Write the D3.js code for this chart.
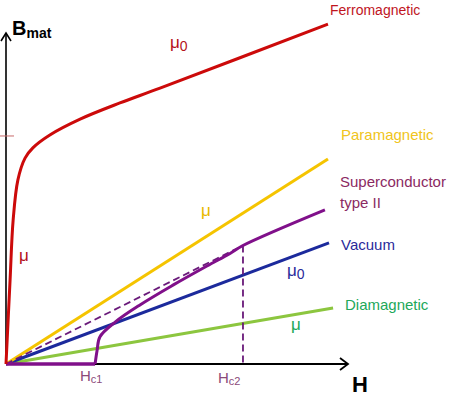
<!DOCTYPE html>
<meta charset="utf-8">
<head>
    <title>B vs H</title>
    <script src="https://cdn.jsdelivr.net/npm/d3@7"></script>
    <style>
        body { margin: 0; background: #fff; }
        text { font-family: "Liberation Sans", Arial, sans-serif; }
    </style>
</head>
<body>
<div id="chart"></div>
<script>
    // values (H and B in arbitrary units)
    var ferroH = [0, 1.2, 2.1, 3.5, 5.6, 7.9, 12.9, 21.8, 33.5, 45.3, 94.7];
    var ferroB = [0, 25.5, 43.6, 55.8, 62.4, 65.5, 69.4, 74.2, 79.1, 83.6, 103];

    var lineNames = ["Diamagnetic", "Vacuum", "Paramagnetic"];
    var lineEndH = [96.2, 95.0, 94.7];
    var lineEndB = [17.0, 36.7, 62.1];
    var lineColors = ["#8cc63f", "#1c2a9c", "#f5c400"];

    var scFlatH = [0, 26.2];
    var scH = [26.2, 26.8, 27.6, 32.1, 39.4, 49.1, 59.1, 65.9, 69.7, 93.8];
    var scB = [0, 4.2, 8.2, 12.7, 17.9, 23.9, 29.7, 33.5, 35.9, 46.7];
    var Hc1 = 26.2, Hc2 = 69.7, BHc2 = 35.9;
    var tickB = 69.1;

    var w = 474, h = 399;
    var svg = d3.select("#chart").append("svg")
        .attr("width", w).attr("height", h);

    var x = d3.scaleLinear().domain([0, 100]).range([6, 346]);
    var y = d3.scaleLinear().domain([0, 100]).range([364, 34]);

    // axes with open arrow heads
    svg.append("line").attr("x1", x(0)).attr("y1", y(0)).attr("x2", x(0)).attr("y2", 33)
        .attr("stroke", "#000").attr("stroke-width", 1.6);
    svg.append("path").attr("d", "M1,41 L" + x(0) + ",33 L11,41")
        .attr("fill", "none").attr("stroke", "#000").attr("stroke-width", 1.6);
    svg.append("line").attr("x1", x(0)).attr("y1", y(0)).attr("x2", 348).attr("y2", y(0))
        .attr("stroke", "#000").attr("stroke-width", 2);
    svg.append("path").attr("d", "M340,358 L348," + y(0) + " L340,370")
        .attr("fill", "none").attr("stroke", "#000").attr("stroke-width", 1.8);

    // small tick on B axis
    svg.append("line").attr("x1", 0).attr("x2", 14).attr("y1", y(tickB)).attr("y2", y(tickB))
        .attr("stroke", "#c86a6a").attr("stroke-width", 1);

    // straight lines from origin
    svg.selectAll(".lin").data(lineNames).enter().append("line")
        .attr("class", "lin")
        .attr("x1", x(0)).attr("y1", y(0))
        .attr("x2", function(d, i) { return x(lineEndH[i]); })
        .attr("y2", function(d, i) { return y(lineEndB[i]); })
        .attr("stroke", function(d, i) { return lineColors[i]; })
        .attr("stroke-width", 3);

    // superconductor dashed guides
    svg.append("line").attr("x1", x(0)).attr("y1", y(0)).attr("x2", x(Hc2)).attr("y2", y(BHc2))
        .attr("stroke", "#6a1a7a").attr("stroke-width", 1.8).attr("stroke-dasharray", "7,4");
    svg.append("line").attr("x1", x(Hc2)).attr("y1", y(BHc2)).attr("x2", x(Hc2)).attr("y2", y(0))
        .attr("stroke", "#6a1a7a").attr("stroke-width", 1.8).attr("stroke-dasharray", "7,4");

    // superconductor type II
    var line = d3.line().x(function(d) { return x(d[0]); }).y(function(d) { return y(d[1]); });
    var smooth = d3.line().x(function(d) { return x(d[0]); }).y(function(d) { return y(d[1]); })
        .curve(d3.curveCatmullRom.alpha(0.5));
    svg.append("path")
        .attr("d", line(scFlatH.map(function(v) { return [v, 0]; })))
        .attr("fill", "none").attr("stroke", "#80108a").attr("stroke-width", 3.5);
    svg.append("path")
        .attr("d", smooth(scH.map(function(v, i) { return [v, scB[i]]; })))
        .attr("fill", "none").attr("stroke", "#80108a").attr("stroke-width", 3);

    // ferromagnetic
    svg.append("path")
        .attr("d", smooth(ferroH.map(function(v, i) { return [v, ferroB[i]]; })))
        .attr("fill", "none").attr("stroke", "#cc0a0a").attr("stroke-width", 3);

    // labels
    function label(tx, ty, txt, col, size) {
        return svg.append("text").attr("x", tx).attr("y", ty).attr("fill", col)
            .style("font-size", size + "px").text(txt);
    }
    label(330, 15, "Ferromagnetic", "#c0141e", 14);
    label(341, 140, "Paramagnetic", "#f0c420", 15);
    label(340, 187, "Superconductor", "#8b2a62", 15);
    label(340, 208, "type II", "#8b2a62", 15);
    label(341, 250, "Vacuum", "#2a2a9a", 15);
    label(345, 310, "Diamagnetic", "#22a85a", 15);

    function mu(tx, ty, col, sub) {
        var t = svg.append("text").attr("x", tx).attr("y", ty).attr("fill", col)
            .style("font-size", "17px").text("\u03bc");
        if (sub) t.append("tspan").attr("dy", 3).style("font-size", "14px").text(sub);
    }
    mu(170, 48, "#b5121b", "0");
    mu(19, 261, "#b5121b");
    mu(201, 216, "#e8b800");
    mu(287, 276, "#2a2a9a", "0");
    mu(291, 330, "#22a85a");

    // critical field labels
    var hc = svg.append("text").attr("x", 80).attr("y", 381).attr("fill", "#8b4a7a")
        .style("font-size", "15px").text("H");
    hc.append("tspan").attr("dy", 2).style("font-size", "11px").text("c1");
    var hc2 = svg.append("text").attr("x", 218).attr("y", 383).attr("fill", "#8b4a7a")
        .style("font-size", "15px").text("H");
    hc2.append("tspan").attr("dy", 2).style("font-size", "11px").text("c2");

    // axis titles
    var bt = svg.append("text").attr("x", 12).attr("y", 35).attr("fill", "#000")
        .style("font-size", "20px").style("font-weight", "bold").text("B");
    bt.append("tspan").attr("dy", 3).style("font-size", "14px").text("mat");
    svg.append("text").attr("x", 352).attr("y", 392).attr("fill", "#000")
        .style("font-size", "22px").style("font-weight", "bold").text("H");
</script>
</body>
</html>
